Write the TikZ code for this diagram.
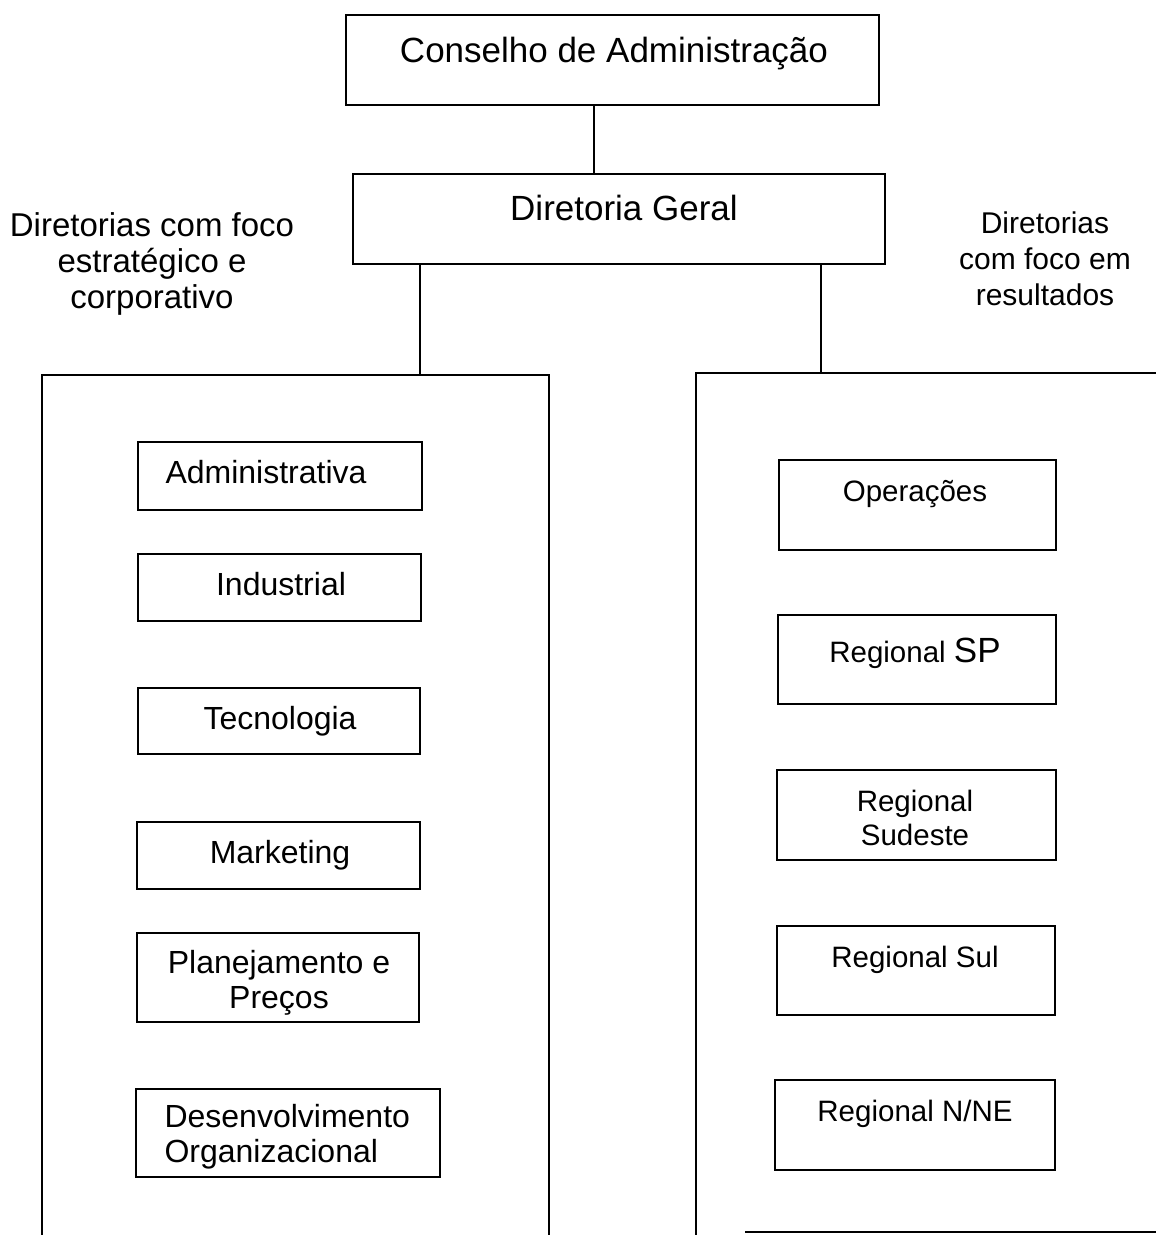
\documentclass[tikz,border=0pt]{standalone}
\usepackage{fontspec}
\setmainfont{Liberation Sans}
\usetikzlibrary{positioning}

\tikzset{
  box/.style={draw,line width=2.4pt,rectangle,inner sep=0pt,anchor=north west},
  wire/.style={line width=2.4pt},
  toptext/.style={font=\fontsize{35}{40}\selectfont},
  lefttext/.style={font=\fontsize{32}{35}\selectfont,align=center},
  righttext/.style={font=\fontsize{29.5}{34}\selectfont,align=center},
}

\begin{document}
\begin{tikzpicture}[x=1pt,y=-1pt]
  \useasboundingbox (0,0) rectangle (1156,1235);
  % top boxes
  \node [box,minimum width=533pt,minimum height=90pt] at (345,14) (cons) {};
  \node [toptext] at (614,54) (constext) {Conselho de Administração};
  \node [box,minimum width=532pt,minimum height=90pt] at (352,173) (geral) {};
  \node [toptext] at (624,208) (geraltext) {Diretoria Geral};
  % side labels
  \node [font=\fontsize{33}{36}\selectfont,align=center] at (152,264)
    (leftlabel) {Diretorias com foco\\estratégico e\\corporativo}
  ;
  \node [font=\fontsize{30}{36}\selectfont,align=center] at (1045,259)
    (rightlabel) {Diretorias\\com foco em\\resultados}
  ;
  % frames
  \draw [wire]
    (42,1240)
    -- (42,375)
    -- (549,375)
    -- (549,1240)
  ;
  \draw [wire]
    (696,1240)
    -- (696,373)
    -- (1162,373)
  ;
  \draw [wire] (745,1232) -- (1162,1232);
  \coordinate (consdrop) at (594,0);
  \coordinate (lefttop) at (420,375);
  \coordinate (righttop) at (821,373);
  % connectors
  \draw [wire] (cons.south -| consdrop) -- (geral.north -| consdrop);
  \draw [wire] (geral.south -| lefttop) -- (lefttop);
  \draw [wire] (geral.south -| righttop) -- (righttop);
  % strategic directorates
  \node [box,minimum width=284pt,minimum height=68pt] at (137,441) (adm) {};
  \node [lefttext] at (266,472) (admtext) {Administrativa};
  \node [box,minimum width=283pt,minimum height=67pt] at (137,553) (ind) {};
  \node [lefttext] at (281,584) (indtext) {Industrial};
  \node [box,minimum width=282pt,minimum height=66pt] at (137,687) (tec) {};
  \node [lefttext] at (280,721) (tectext) {Tecnologia};
  \node [box,minimum width=283pt,minimum height=67pt] at (136,821) (mkt) {};
  \node [lefttext] at (280,855) (mkttext) {Marketing};
  \node [box,minimum width=282pt,minimum height=89pt] at (136,932) (plan) {};
  \node [lefttext] at (279,983) (plantext) {Planejamento e\\Preços};
  \node [box,minimum width=304pt,minimum height=88pt] at (135,1088) (deso) {};
  \node [lefttext,align=left,anchor=west] at (161,1137)
    (desotext) {Desenvolvimento\\Organizacional}
  ;
  % result directorates
  \node [box,minimum width=277pt,minimum height=90pt] at (778,459) (ope) {};
  \node [righttext] at (915,494) (opetext) {Operações};
  \node [box,minimum width=278pt,minimum height=89pt] at (777,614) (rsp) {};
  \node [righttext] at (915,653)
    (rsptext) {Regional {\fontsize{35}{40}\selectfont SP}}
  ;
  \node [box,minimum width=279pt,minimum height=90pt] at (776,769) (rse) {};
  \node [righttext] at (915,818) (rsetext) {Regional\\Sudeste};
  \node [box,minimum width=278pt,minimum height=89pt] at (776,925) (rsu) {};
  \node [righttext] at (915,960) (rsutext) {Regional Sul};
  \node [box,minimum width=280pt,minimum height=90pt] at (774,1079) (rne) {};
  \node [righttext] at (915,1114) (rnetext) {Regional N/NE};
\end{tikzpicture}
\end{document}
